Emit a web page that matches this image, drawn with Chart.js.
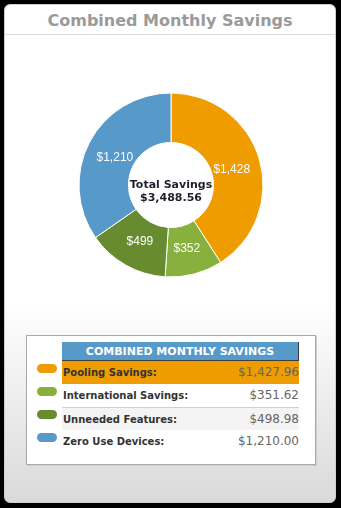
<!DOCTYPE html>
<html>
<head>
<meta charset="utf-8">
<script src="https://cdn.jsdelivr.net/npm/chart.js@4"></script>
<style>
    body {
        margin: 0;
        width: 341px;
        height: 508px;
        background: #000;
        position: relative;
        overflow: hidden;
        font-family: "DejaVu Sans", Verdana, sans-serif;
    }
    .card {
        position: absolute;
        left: 4px;
        top: 4px;
        width: 330px;
        height: 497px;
        border: 1px solid #cfcfcf;
        border-radius: 6px;
        background: linear-gradient(to bottom, #fff 0%, #fff 60%, #d9d9d9 100%);
    }
    .card_title {
        position: absolute;
        left: 0;
        top: 0;
        width: 100%;
        height: 29px;
        border-bottom: 1px solid #dcdcdc;
        text-align: center;
        font-weight: bold;
        font-size: 16px;
        line-height: 32px;
        color: #9a9a9a;
    }
    .chart_wrap {
        position: absolute;
        left: 71px;
        top: 85px;
        width: 200px;
        height: 200px;
    }
    .savings_box {
        position: absolute;
        left: 26px;
        top: 335px;
        width: 288px;
        height: 128px;
        background: #fff;
        border: 1px solid #a9a9a9;
        box-shadow: 1px 1px 0 #cfcfcf;
    }
    .savings_head {
        position: absolute;
        left: 35px;
        top: 6px;
        width: 236px;
        height: 18px;
        background: #5799c8;
        border-right: 1px solid #3c3c3c;
        border-bottom: 1px solid #3c3c3c;
        color: #fff;
        font-weight: bold;
        font-size: 11px;
        line-height: 19px;
        text-align: center;
    }
    .savings_row {
        position: absolute;
        left: 35px;
        width: 237px;
        height: 23px;
    }
    .savings_row .name {
        position: absolute;
        left: 1px;
        top: 0;
        font-weight: bold;
        font-size: 10px;
        line-height: 23px;
        color: #333;
    }
    .savings_row .amount {
        position: absolute;
        right: 0;
        top: 0;
        font-size: 12px;
        line-height: 23px;
        color: #666;
    }
    .pill {
        position: absolute;
        left: 10px;
        width: 20px;
        height: 9px;
        border-radius: 5px;
    }
</style>
</head>
<body>
<div class="card">
    <div class="card_title" id="card_title"></div>
</div>
<div class="chart_wrap"><canvas id="savings_chart"></canvas></div>
<div class="savings_box" id="savings_box">
    <div class="savings_head" id="savings_head"></div>
</div>

<script>
const chartTitle = 'Combined Monthly Savings';
const categories = ['Pooling Savings', 'International Savings', 'Unneeded Features', 'Zero Use Devices'];
const savings = [1427.96, 351.62, 498.98, 1210.00];
const sliceColors = ['#ee9c00', '#87b13c', '#688b30', '#5799c8'];
const centerLabel = 'Total Savings';

const total = savings.reduce((a, b) => a + b, 0);

const money = (v, digits) => '$' + v.toLocaleString('en-US', {
    minimumFractionDigits: digits,
    maximumFractionDigits: digits
});

document.getElementById('card_title').textContent = chartTitle;
document.getElementById('savings_head').textContent = chartTitle.toUpperCase();

/* Table rows under the chart */
const box = document.getElementById('savings_box');
categories.forEach((name, i) => {
    const top = 25 + i * 23;

    const row = document.createElement('div');
    row.className = 'savings_row';
    row.style.top = top + 'px';
    if (i === 0) row.style.background = sliceColors[0];
    if (i === 2) {
        row.style.background = '#f4f4f4';
        row.style.borderTop = '1px solid #cfcfcf';
        row.style.height = '22px';
    }
    row.innerHTML = `<span class="name">${name}:</span><span class="amount">${money(savings[i], 2)}</span>`;
    box.appendChild(row);

    const pill = document.createElement('div');
    pill.className = 'pill';
    pill.style.top = (top + 3) + 'px';
    pill.style.background = sliceColors[i];
    box.appendChild(pill);
});

/* Labels inside the slices and the total in the hole */
const sliceLabels = {
    id: 'sliceLabels',
    afterDatasetsDraw(chart) {
        const ctx = chart.ctx;
        const meta = chart.getDatasetMeta(0);
        ctx.save();
        ctx.font = '12px "Liberation Sans", Arial, sans-serif';
        ctx.fillStyle = '#fff';
        ctx.textAlign = 'center';
        ctx.textBaseline = 'middle';
        meta.data.forEach((arc, i) => {
            const p = arc.getProps(['x', 'y', 'startAngle', 'endAngle', 'innerRadius', 'outerRadius'], true);
            const mid = (p.startAngle + p.endAngle) / 2;
            const r = p.innerRadius + (p.outerRadius - p.innerRadius) * 0.42;
            ctx.fillText(money(Math.round(savings[i]), 0), p.x + Math.cos(mid) * r, p.y + Math.sin(mid) * r + 2);
        });

        const c = meta.data[0];
        ctx.font = 'bold 11px "DejaVu Sans", Verdana, sans-serif';
        ctx.fillStyle = '#1f1f2a';
        ctx.textBaseline = 'alphabetic';
        ctx.fillText(centerLabel, c.x, c.y + 3);
        ctx.fillText(money(total, 2), c.x, c.y + 16);
        ctx.restore();
    }
};

new Chart(document.getElementById('savings_chart'), {
    type: 'doughnut',
    data: {
        labels: categories,
        datasets: [{
            data: savings,
            backgroundColor: sliceColors,
            borderColor: '#fff',
            borderWidth: 1
        }]
    },
    options: {
        responsive: true,
        maintainAspectRatio: false,
        animation: false,
        radius: 92,
        cutout: 46,
        plugins: {
            legend: { display: false },
            tooltip: { enabled: false }
        }
    },
    plugins: [sliceLabels]
});
</script>
</body>
</html>
